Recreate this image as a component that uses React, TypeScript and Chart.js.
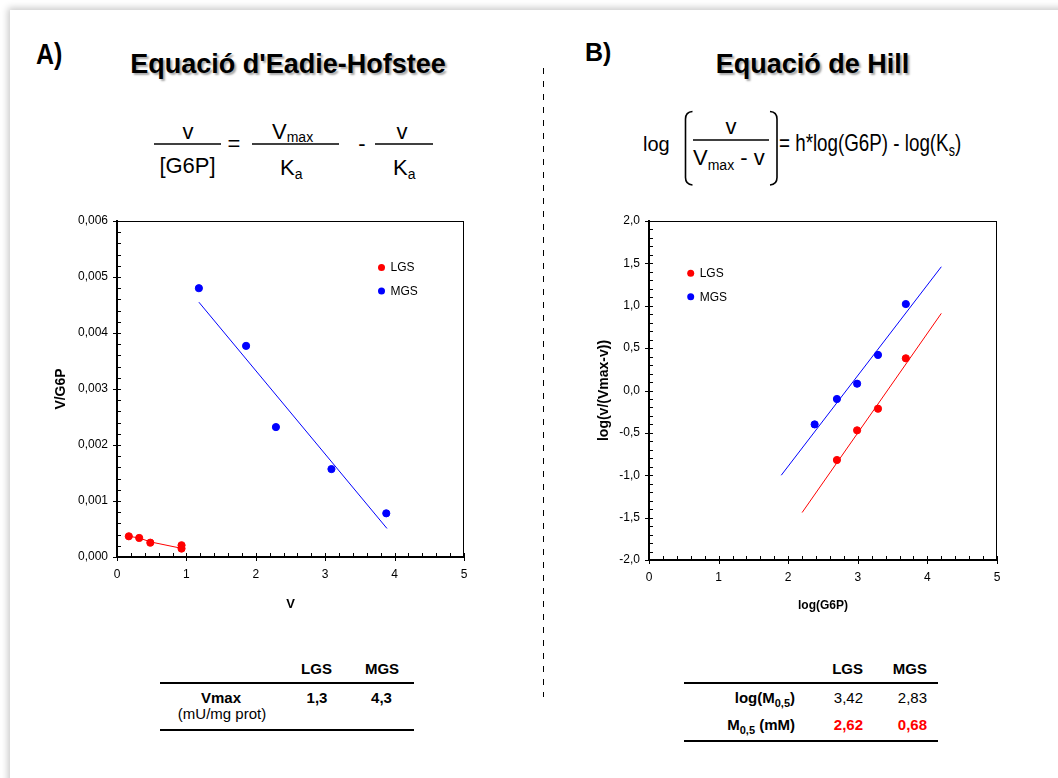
import React, { useEffect, useRef } from "react";
import { Chart, registerables } from "chart.js";

Chart.register(...registerables);

const FONT = "'Liberation Sans', Arial, Helvetica, sans-serif";
const RED = "#ff0000";
const BLUE = "#0000ff";

// ---------- A) Eadie-Hofstee data ----------
const SERIES = ["LGS", "MGS"];
const EH_LGS_V = [0.17, 0.32, 0.48, 0.93, 0.93];
const EH_LGS_VG6P = [0.00037, 0.00034, 0.000256, 0.00021, 0.00015];
const EH_MGS_V = [1.18, 1.86, 2.29, 3.09, 3.88];
const EH_MGS_VG6P = [0.0048, 0.00377, 0.00232, 0.00157, 0.00078];
const EH_LGS_FIT_V = [0.17, 0.32, 0.48, 0.93];
const EH_LGS_FIT_VG6P = [0.00037, 0.00034, 0.00027, 0.000155];
const EH_MGS_FIT_V = [1.18, 3.89];
const EH_MGS_FIT_VG6P = [0.00455, 0.00051];

// ---------- B) Hill data ----------
const HILL_LGS_LOGG6P = [2.7, 2.99, 3.29, 3.69];
const HILL_LGS_Y = [-0.82, -0.47, -0.215, 0.38];
const HILL_MGS_LOGG6P = [2.38, 2.7, 2.99, 3.29, 3.69];
const HILL_MGS_Y = [-0.4, -0.1, 0.08, 0.42, 1.02];
const HILL_LGS_FIT_X = [2.2, 4.2];
const HILL_LGS_FIT_Y = [-1.44, 0.91];
const HILL_MGS_FIT_X = [1.9, 4.2];
const HILL_MGS_FIT_Y = [-1.0, 1.46];

// ---------- tables ----------
const VMAX = ["1,3", "4,3"];
const LOG_M05 = ["3,42", "2,83"];
const M05 = ["2,62", "0,68"];

const pts = (xs: number[], ys: number[]) => xs.map((x, i) => ({ x, y: ys[i] }));
const isMajor = (v: number, step: number) => Math.abs(v / step - Math.round(v / step)) < 1e-6;

const frameTicks = {
  id: "frameTicks",
  afterDraw(chart: any, _a: any, opts: any) {
    const { ctx, chartArea: a } = chart;
    const xs = chart.scales.x;
    const ys = chart.scales.y;
    ctx.save();
    ctx.strokeStyle = "#000";
    ctx.lineWidth = 1;
    ctx.beginPath();
    ctx.moveTo(a.left, Math.round(a.top) + 0.5);
    ctx.lineTo(a.right, Math.round(a.top) + 0.5);
    ctx.moveTo(Math.round(a.right) - 0.5, a.top);
    ctx.lineTo(Math.round(a.right) - 0.5, a.bottom);
    for (const t of xs.ticks) {
      const px = Math.round(xs.getPixelForValue(t.value)) + 0.5;
      const major = isMajor(t.value, opts.xMajor);
      ctx.moveTo(px, a.bottom - 4);
      ctx.lineTo(px, a.bottom + (major ? 4 : 0));
    }
    for (const t of ys.ticks) {
      const py = Math.round(ys.getPixelForValue(t.value)) + 0.5;
      const major = isMajor(t.value, opts.yMajor);
      ctx.moveTo(a.left + 4, py);
      ctx.lineTo(a.left - (major ? 4 : 0), py);
    }
    ctx.stroke();
    ctx.restore();
  },
};

const inLegend = {
  id: "inLegend",
  afterDraw(chart: any, _a: any, opts: any) {
    const { ctx, chartArea: a } = chart;
    ctx.save();
    ctx.font = `12px ${FONT}`;
    ctx.textBaseline = "middle";
    let i = 0;
    chart.data.datasets.forEach((ds: any) => {
      if (ds.showLine) return;
      const cx = a.left + opts.x;
      const cy = a.top + opts.y + i * opts.dy;
      ctx.fillStyle = ds.backgroundColor;
      ctx.beginPath();
      ctx.arc(cx, cy, 3.5, 0, Math.PI * 2);
      ctx.fill();
      ctx.fillStyle = "#000";
      ctx.fillText(ds.label, cx + opts.dx, cy + 0.5);
      i++;
    });
    ctx.restore();
  },
};

function scatterDs(label: string, color: string, data: any[]) {
  return { label, data, backgroundColor: color, borderColor: color, pointRadius: 3.6, pointHoverRadius: 3.6, showLine: false };
}
function lineDs(label: string, color: string, data: any[]) {
  return { label, data, borderColor: color, backgroundColor: color, borderWidth: 1, pointRadius: 0, showLine: true, fill: false, tension: 0 };
}

function axis(opts: any) {
  return {
    type: "linear",
    min: opts.min,
    max: opts.max,
    grid: { display: false, drawTicks: false },
    border: { display: true, color: "#000", width: 2 },
    ticks: {
      stepSize: opts.step,
      autoSkip: false,
      maxRotation: 0,
      padding: opts.pad,
      color: "#000",
      font: { family: FONT, size: 12 },
      callback: (v: number) => (isMajor(v, opts.major) ? v.toFixed(opts.dec).replace(".", ",") : ""),
    },
    title: {
      display: true,
      text: opts.title,
      color: "#000",
      font: { family: FONT, size: opts.titleSize, weight: "bold" },
      padding: opts.titlePad,
    },
    afterFit: opts.afterFit,
  };
}

function ehConfig(): any {
  return {
    type: "scatter",
    data: {
      datasets: [
        scatterDs(SERIES[0], RED, pts(EH_LGS_V, EH_LGS_VG6P)),
        scatterDs(SERIES[1], BLUE, pts(EH_MGS_V, EH_MGS_VG6P)),
        lineDs("LGS fit", RED, pts(EH_LGS_FIT_V, EH_LGS_FIT_VG6P)),
        lineDs("MGS fit", BLUE, pts(EH_MGS_FIT_V, EH_MGS_FIT_VG6P)),
      ],
    },
    options: {
      responsive: false,
      animation: false,
      events: [],
      layout: { padding: { top: 31, right: 26, left: 0, bottom: 0 } },
      plugins: {
        legend: { display: false },
        tooltip: { enabled: false },
        frameTicks: { xMajor: 1, yMajor: 0.001 },
        inLegend: { x: 264.5, y: 46.5, dy: 23.4, dx: 9 },
      },
      scales: {
        x: axis({
          min: 0, max: 5, step: 0.2, major: 1, dec: 0, pad: 10,
          title: "V", titleSize: 13, titlePad: { top: 0, bottom: 18.2 },
          afterFit: (s: any) => { s.height = 73; },
        }),
        y: axis({
          min: 0, max: 0.006, step: 0.0002, major: 0.001, dec: 3, pad: 9,
          title: "V/G6P", titleSize: 14, titlePad: { top: 22.6, bottom: 0 },
          afterFit: (s: any) => { s.width = 87; },
        }),
      },
    },
    plugins: [frameTicks, inLegend],
  };
}

function hillConfig(): any {
  return {
    type: "scatter",
    data: {
      datasets: [
        scatterDs(SERIES[0], RED, pts(HILL_LGS_LOGG6P, HILL_LGS_Y)),
        scatterDs(SERIES[1], BLUE, pts(HILL_MGS_LOGG6P, HILL_MGS_Y)),
        lineDs("LGS fit", RED, pts(HILL_LGS_FIT_X, HILL_LGS_FIT_Y)),
        lineDs("MGS fit", BLUE, pts(HILL_MGS_FIT_X, HILL_MGS_FIT_Y)),
      ],
    },
    options: {
      responsive: false,
      animation: false,
      events: [],
      layout: { padding: { top: 31, right: 23, left: 0, bottom: 0 } },
      plugins: {
        legend: { display: false },
        tooltip: { enabled: false },
        frameTicks: { xMajor: 1, yMajor: 0.5 },
        inLegend: { x: 41.7, y: 52.3, dy: 23.4, dx: 9 },
      },
      scales: {
        x: axis({
          min: 0, max: 5, step: 0.2, major: 1, dec: 0, pad: 10,
          title: "log(G6P)", titleSize: 12, titlePad: { top: 0, bottom: 16.8 },
          afterFit: (s: any) => { s.height = 70; },
        }),
        y: axis({
          min: -2, max: 2, step: 0.1, major: 0.5, dec: 1, pad: 9,
          title: "log(v/(Vmax-v))", titleSize: 14, titlePad: { top: 35.6, bottom: 0 },
          afterFit: (s: any) => { s.width = 89; },
        }),
      },
    },
    plugins: [frameTicks, inLegend],
  };
}

function ChartCanvas({ make, left, top, width, height }: any) {
  const ref = useRef<HTMLCanvasElement>(null);
  useEffect(() => {
    const chart = new Chart(ref.current as HTMLCanvasElement, make());
    return () => chart.destroy();
  }, []);
  return (
    <canvas
      ref={ref}
      width={width}
      height={height}
      style={{ position: "absolute", left, top, width, height }}
    />
  );
}

function T({ x, y, size, bold, align = "left", color = "#000", shadow, sy, children }: any) {
  const style: any = {
    position: "absolute",
    left: x,
    top: y - 0.8465 * size,
    fontSize: size,
    lineHeight: `${size}px`,
    fontWeight: bold ? 700 : 400,
    color,
    whiteSpace: "nowrap",
    fontFamily: FONT,
  };
  const tr: string[] = [];
  if (align === "center") tr.push("translateX(-50%)");
  if (align === "right") tr.push("translateX(-100%)");
  if (sy) {
    tr.push(`scaleY(${sy})`);
    style.transformOrigin = `0 ${0.8465 * size}px`;
  }
  if (tr.length) style.transform = tr.join(" ");
  if (shadow) style.textShadow = "2px 2px 2px rgba(0,0,0,0.35)";
  return <div style={style}>{children}</div>;
}

function Sub({ size, off, children }: any) {
  return (
    <span style={{ fontSize: size, position: "relative", top: off, lineHeight: 0 }}>{children}</span>
  );
}

export default function App() {
  return (
    <div style={{ position: "absolute", left: 0, top: 0, width: 1058, height: 778, overflow: "hidden", background: "#fff", fontFamily: FONT }}>
      <div style={{ position: "absolute", left: 10, top: 10, width: 1120, height: 820, background: "#fff", boxShadow: "0 0 7px 2px rgba(0,0,0,0.22)" }} />

      {/* headings */}
      <T x={36} y={64} size={25} bold sy={1.2}>A)</T>
      <T x={585} y={61} size={25} bold>B)</T>
      <T x={288} y={74} size={27} bold align="center" shadow>Equació d'Eadie-Hofstee</T>
      <T x={812.5} y={74} size={27} bold align="center" shadow>Equació de Hill</T>

      {/* left equation */}
      <T x={188} y={140} size={22} align="center">v</T>
      <T x={187.5} y={174} size={22} align="center">[G6P]</T>
      <T x={234} y={152} size={22} align="center">=</T>
      <T x={272} y={140} size={22}>V<Sub size={14} off={3}>max</Sub></T>
      <T x={280} y={176} size={22}>K<Sub size={14} off={4}>a</Sub></T>
      <T x={362} y={152} size={22} align="center">-</T>
      <T x={402} y={140} size={22} align="center">v</T>
      <T x={393} y={176} size={22}>K<Sub size={14} off={4}>a</Sub></T>

      {/* right equation */}
      <T x={643} y={151} size={20}>log</T>
      <T x={731} y={135} size={22} align="center">v</T>
      <T x={693} y={166} size={22}>V<Sub size={14} off={5}>max</Sub> - v</T>
      <T x={779} y={151.5} size={18.8} sy={1.25}>= h*log(G6P) - log(K<Sub size={12.5} off={4}>s</Sub>)</T>

      {/* left table */}
      <T x={316.5} y={674} size={15} bold align="center">{SERIES[0]}</T>
      <T x={382} y={674} size={15} bold align="center">{SERIES[1]}</T>
      <T x={221} y={703} size={15} bold align="center">Vmax</T>
      <T x={222} y={718.5} size={15} align="center">(mU/mg prot)</T>
      <T x={317} y={703} size={15} bold align="center">{VMAX[0]}</T>
      <T x={381.5} y={703} size={15} bold align="center">{VMAX[1]}</T>

      {/* right table */}
      <T x={863} y={674} size={15} bold align="right">{SERIES[0]}</T>
      <T x={927} y={674} size={15} bold align="right">{SERIES[1]}</T>
      <T x={795} y={703} size={15} bold align="right">log(M<Sub size={11} off={4}>0,5</Sub>)</T>
      <T x={863} y={703} size={15} align="right">{LOG_M05[0]}</T>
      <T x={927} y={703} size={15} align="right">{LOG_M05[1]}</T>
      <T x={795} y={730} size={15} bold align="right">M<Sub size={11} off={4}>0,5</Sub> (mM)</T>
      <T x={863} y={730} size={15} bold align="right" color={RED}>{M05[0]}</T>
      <T x={927} y={730} size={15} bold align="right" color={RED}>{M05[1]}</T>

      <svg width={1058} height={778} style={{ position: "absolute", left: 0, top: 0, pointerEvents: "none" }}>
        {/* fraction bars */}
        <line x1={154} x2={221} y1={144} y2={144} stroke="#000" strokeWidth={1.6} />
        <line x1={252} x2={339} y1={144} y2={144} stroke="#000" strokeWidth={1.6} />
        <line x1={375} x2={433} y1={144} y2={144} stroke="#000" strokeWidth={1.6} />
        <line x1={693} x2={769} y1={140} y2={140} stroke="#000" strokeWidth={1.6} />
        {/* brackets */}
        <path d="M692.5,111.5 Q685.5,112 685.5,119 L685.5,177.5 Q685.5,184.5 692.5,185" fill="none" stroke="#000" strokeWidth={1.6} />
        <path d="M770,111.5 Q777,112 777,119 L777,177.5 Q777,184.5 770,185" fill="none" stroke="#000" strokeWidth={1.6} />
        {/* divider */}
        <line x1={543.5} x2={543.5} y1={68} y2={697} stroke="#000" strokeWidth={1} strokeDasharray="6 7" />
        {/* table rules */}
        <line x1={160} x2={414} y1={683} y2={683} stroke="#000" strokeWidth={2} />
        <line x1={160} x2={414} y1={730} y2={730} stroke="#000" strokeWidth={2} />
        <line x1={684} x2={938} y1={683} y2={683} stroke="#000" strokeWidth={2} />
        <line x1={684} x2={938} y1={741} y2={741} stroke="#000" strokeWidth={2} />
      </svg>

      <ChartCanvas make={ehConfig} left={30} top={190} width={460} height={440} />
      <ChartCanvas make={hillConfig} left={560} top={190} width={460} height={440} />
    </div>
  );
}
